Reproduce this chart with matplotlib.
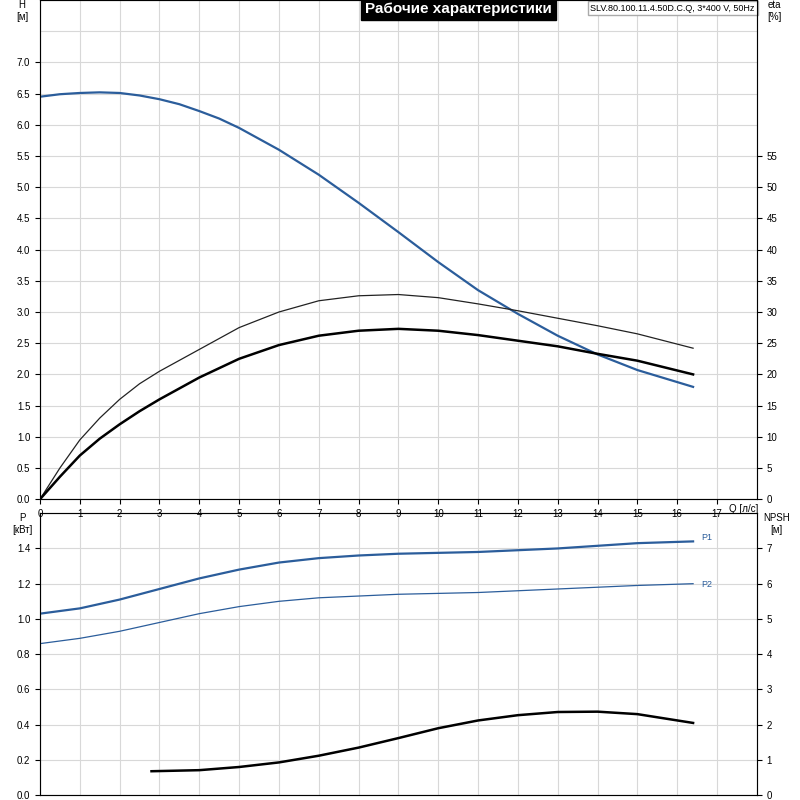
import numpy as np
import matplotlib.pyplot as plt

plt.rcParams['font.family'] = ['Liberation Sans', 'DejaVu Sans']
plt.rcParams['font.size'] = 7

# Head curve
q_h = [0, 0.5, 1, 1.5, 2, 2.5, 3, 3.5, 4, 4.5, 5, 6, 7, 8, 9, 10, 11, 12, 13, 14, 15, 16.4]
h = [6.45, 6.49, 6.51, 6.52, 6.51, 6.47, 6.41, 6.33, 6.22, 6.1, 5.95, 5.6, 5.2, 4.75, 4.28, 3.8, 3.35, 2.97, 2.62, 2.32, 2.07, 1.8]

# Efficiency curves [%]
q_e = [0, 0.5, 1, 1.5, 2, 2.5, 3, 4, 5, 6, 7, 8, 9, 10, 11, 12, 13, 14, 15, 16.4]
eta_thin = [0, 5, 9.5, 13, 16, 18.5, 20.5, 24, 27.5, 30, 31.8, 32.6, 32.8, 32.3, 31.3, 30.2, 29, 27.8, 26.5, 24.2]
eta_thick = [0, 3.6, 7, 9.7, 12, 14.1, 16, 19.5, 22.5, 24.7, 26.2, 27, 27.3, 27, 26.3, 25.4, 24.5, 23.3, 22.2, 20]

# Power curves [kW]
q_p = [0, 1, 2, 3, 4, 5, 6, 7, 8, 9, 10, 11, 12, 13, 14, 15, 16.4]
p1 = [1.03, 1.06, 1.11, 1.17, 1.23, 1.28, 1.32, 1.345, 1.36, 1.37, 1.375, 1.38, 1.39, 1.40, 1.415, 1.43, 1.44]
p2 = [0.86, 0.89, 0.93, 0.98, 1.03, 1.07, 1.10, 1.12, 1.13, 1.14, 1.145, 1.15, 1.16, 1.17, 1.18, 1.19, 1.20]

# NPSH [m]
q_n = [2.8, 4, 5, 6, 7, 8, 9, 10, 11, 12, 13, 14, 15, 16.4]
npsh = [0.68, 0.71, 0.8, 0.93, 1.12, 1.35, 1.62, 1.9, 2.12, 2.27, 2.36, 2.37, 2.3, 2.05]

blue = '#2b5d9b'
grid = '#d8d8d8'

fig = plt.figure(figsize=(8, 8), dpi=100)

bx = fig.add_axes([0.05, 0.006, 0.896, 0.3525])
bx.patch.set_alpha(0)
ax = fig.add_axes([0.05, 0.376, 0.896, 0.624])
ax.patch.set_alpha(0)

ax.plot(q_h, h, color=blue, lw=1.6)
ax.set_xlim(0, 18)
ax.set_ylim(0, 8)
ax.set_xticks(range(0, 18))
ax.set_yticks(np.arange(0, 7.01, 0.5))
ax.set_yticks(np.arange(0, 8.01, 0.5), minor=True)
ax.grid(True, which='both', color=grid, lw=0.8)
ax.tick_params(which='minor', length=0)
ax.set_yticklabels(['%.1f' % v for v in np.arange(0, 7.01, 0.5)])
ax.text(17.3, -0.08, 'Q [л/с]', ha='left', va='top')
ax.text(-0.45, 8.0, 'H\n[м]', ha='center', va='top')
ax.text(10.5, 7.85, 'Рабочие характеристики', ha='center', va='center', color='white',
        fontsize=11, fontweight='bold', bbox=dict(facecolor='black', edgecolor='black', pad=3))
ax.text(17.95, 7.87, 'SLV.80.100.11.4.50D.C.Q, 3*400 V, 50Hz', ha='right', va='center', fontsize=6.5,
        bbox=dict(facecolor='white', edgecolor='#aaaaaa', pad=2))
for s in ax.spines.values():
    s.set_color('#888888')

ax2 = ax.twinx()
ax2.plot(q_e, eta_thin, color='#222222', lw=0.9)
ax2.plot(q_e, eta_thick, color='black', lw=1.8)
ax2.set_ylim(0, 80)
ax2.set_yticks(range(0, 56, 5))
ax2.text(18.45, 80, 'eta\n[%]', ha='center', va='top')

bx.plot(q_p, p1, color=blue, lw=1.6)
bx.plot(q_p, p2, color=blue, lw=0.9)
bx.text(16.6, 1.45, 'P1', color=blue, fontsize=6.5)
bx.text(16.6, 1.18, 'P2', color=blue, fontsize=6.5)
bx.set_xlim(0, 18)
bx.set_ylim(0, 1.6)
bx.set_xticks(range(0, 18))
bx.set_xticklabels([])
bx.tick_params(axis='x', length=0)
bx.set_yticks(np.arange(0, 1.41, 0.2))
bx.set_yticks(np.arange(0, 1.61, 0.2), minor=True)
bx.tick_params(which='minor', length=0)
bx.set_yticklabels(['%.1f' % v for v in np.arange(0, 1.41, 0.2)])
bx.grid(True, which='both', color=grid, lw=0.8)
bx.text(-0.45, 1.6, 'P\n[кВт]', ha='center', va='top')
for s in bx.spines.values():
    s.set_color('#888888')

bx2 = bx.twinx()
bx2.patch.set_alpha(0)
bx2.plot(q_n, npsh, color='black', lw=1.8)
bx2.set_ylim(0, 8)
bx2.set_yticks(range(0, 8))
bx2.text(18.5, 8, 'NPSH\n[м]', ha='center', va='top')

fig.savefig('out.png', dpi=100)
